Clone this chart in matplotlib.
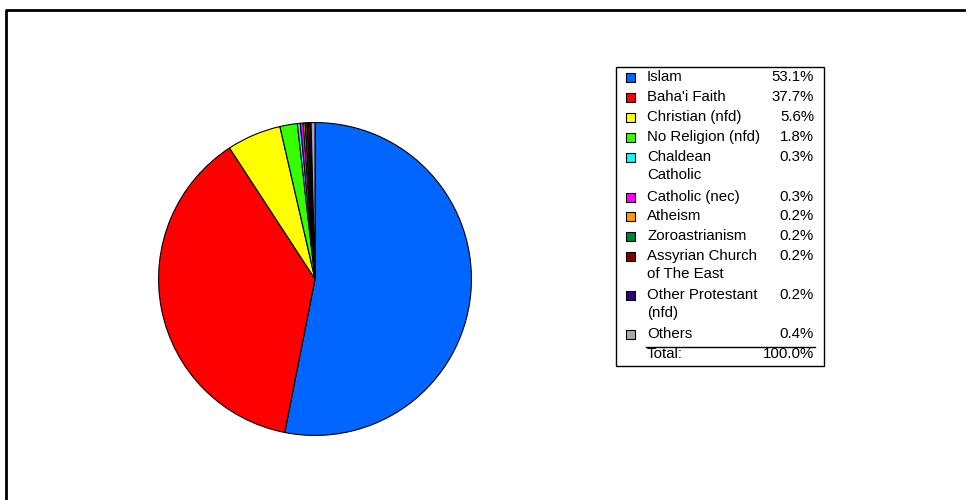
import matplotlib
matplotlib.use("Agg")
import matplotlib.pyplot as plt
from matplotlib.patches import Rectangle

plt.rcParams['font.family'] = ['Liberation Sans', 'DejaVu Sans']

labels = ["Islam", "Baha'i Faith", "Christian (nfd)", "No Religion (nfd)",
          "Chaldean\nCatholic", "Catholic (nec)", "Atheism", "Zoroastrianism",
          "Assyrian Church\nof The East", "Other Protestant\n(nfd)", "Others"]
shares = [53.1, 37.7, 5.6, 1.8, 0.3, 0.3, 0.2, 0.2, 0.2, 0.2, 0.4]
colors = ["#0066ff", "#ff0000", "#ffff00", "#33ff00", "#00ffff", "#ff00ff",
          "#ff9900", "#008033", "#800000", "#330080", "#aaaaaa"]

W, H = 966, 500
fig = plt.figure(figsize=(W / 100, H / 100), dpi=100)

# outer frame (runs off the right and bottom edges)
frame = fig.add_axes([0, 0, 1, 1])
frame.set_xlim(0, W)
frame.set_ylim(H, 0)
frame.axis("off")
frame.plot([5.5, 5.5, W + 5], [H + 5, 9.5, 9.5], color="black", lw=2)

# pie
cx, cy, r = 315, 279, 158
ax = fig.add_axes([(cx - r) / W, (H - cy - r) / H, 2 * r / W, 2 * r / H])
ax.pie(shares, colors=colors, startangle=90, counterclock=False,
       wedgeprops=dict(edgecolor="black", linewidth=0.8))
ax.set_xlim(-1.01, 1.01)
ax.set_ylim(-1.01, 1.01)
ax.set_aspect("equal")

# legend table
frame.add_patch(Rectangle((615.5, 66.5), 208, 299, fill=False,
                          edgecolor="black", lw=1))
row_y = [77, 97, 117, 137, 157, 197, 216, 236, 256, 295, 334]
fs = 10.8
for lab, val, col, y in zip(labels, shares, colors, row_y):
    frame.add_patch(Rectangle((626, y - 4.5), 9, 9, facecolor=col,
                              edgecolor="black", lw=0.8))
    frame.text(647, y - 7, lab, fontsize=fs, va="top", ha="left",
               linespacing=1.38)
    frame.text(814, y - 7, f"{val:.1f}%", fontsize=fs, va="top", ha="right")

frame.plot([646, 815], [346.5, 346.5], color="black", lw=1)
frame.text(647, 347, "Total:", fontsize=fs, va="top", ha="left")
frame.text(814, 347, f"{sum(shares):.1f}%", fontsize=fs, va="top", ha="right")

fig.savefig("out.png", dpi=100)
